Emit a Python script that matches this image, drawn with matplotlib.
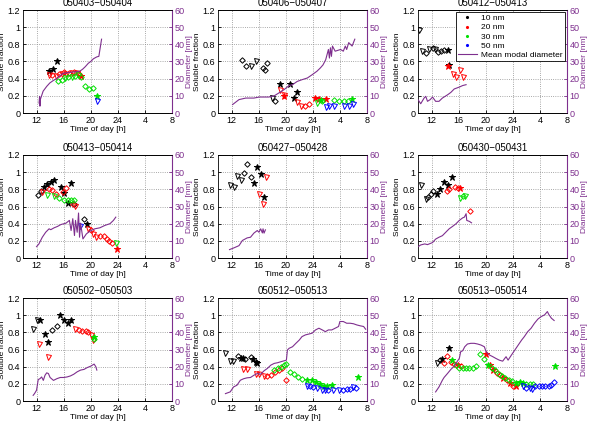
import matplotlib
matplotlib.use("Agg")
import matplotlib.pyplot as plt
from matplotlib.lines import Line2D

plt.rcParams['font.family'] = ['Liberation Sans', 'DejaVu Sans']
plt.rcParams['font.size'] = 6

# Achsen / Beschriftung
TITLES = ['050403\u2212050404', '050406\u2212050407', '050412\u2212050413',
          '050413\u2212050414', '050427\u2212050428', '050430\u2212050431',
          '050502\u2212050503', '050512\u2212050513', '050513\u2212050514']
XTICKS = [12, 16, 20, 24, 28, 32]
XTICKLABELS = ['12', '16', '20', '24', '4', '8']
YTICKS = [0, 0.2, 0.4, 0.6, 0.8, 1.0, 1.2]
YTICKLABELS = ['0', '0.2', '0.4', '0.6', '0.8', '1', '1.2']
DTICKS = [0, 10, 20, 30, 40, 50, 60]
SIZE_LABELS = ['10 nm', '20 nm', '30 nm', '50 nm']

# Messpunkte: (Zeit [h], Löslicher Anteil, Marker)
P1_10 = [(13.8, 0.49, '*'), (14.45, 0.51, '*'), (15.05, 0.60, '*')]
P1_20 = [(13.9, 0.44, 'v'), (14.3, 0.44, 'd'), (14.8, 0.43, 'v'), (15.3, 0.45, 'd'), (15.7, 0.46, 'v'),
         (16.0, 0.48, 'd'), (16.4, 0.46, 'v'), (16.8, 0.47, 'd'), (17.2, 0.47, 'v'), (17.6, 0.48, 'd'),
         (18.0, 0.47, 'v'), (18.3, 0.45, 'd'), (18.6, 0.43, '*')]
P1_30 = [(15.2, 0.37, 'd'), (15.7, 0.39, 'd'), (16.2, 0.41, 'v'), (16.7, 0.42, 'd'), (17.2, 0.42, 'v'),
         (17.7, 0.43, 'd'), (18.1, 0.44, 'v'), (18.6, 0.42, 'd'), (19.2, 0.31, 'd'), (19.7, 0.28, 'd'),
         (20.3, 0.29, 'd'), (21.0, 0.20, '*')]
P1_50 = [(21.0, 0.14, 'v')]

P2_10 = [(13.5, 0.62, 'd'), (14.1, 0.545, 'd'), (14.8, 0.55, 'v'), (15.6, 0.61, 'v'), (16.7, 0.525, 'd'),
         (17.0, 0.50, 'd'), (17.3, 0.58, 'd'), (17.9, 0.175, 'v'), (18.4, 0.135, 'd'), (19.15, 0.34, '*'),
         (20.6, 0.34, '*'), (21.2, 0.175, '*'), (21.7, 0.25, '*')]
P2_20 = [(19.15, 0.27, 'v'), (19.7, 0.20, '*'), (19.8, 0.21, 'v'), (21.7, 0.125, 'v'), (22.2, 0.08, 'v'),
         (22.9, 0.08, 'd'), (23.5, 0.10, 'd'), (24.25, 0.175, '*'), (24.9, 0.16, '*'), (25.9, 0.16, '*')]
P2_30 = [(24.6, 0.12, 'v'), (25.2, 0.15, '*'), (25.4, 0.135, 'd'), (27.1, 0.155, 'd'), (27.8, 0.145, 'd'),
         (28.6, 0.145, 'd'), (29.2, 0.145, 'd'), (29.8, 0.165, '*')]
P2_50 = [(25.9, 0.07, 'v'), (26.4, 0.08, 'v'), (27.1, 0.085, 'v'), (28.6, 0.085, 'v'), (29.3, 0.08, 'v'),
         (30.0, 0.105, 'v')]

P3_10 = [(10.15, 0.97, 'v'), (10.65, 0.72, 'v'), (11.15, 0.70, 'd'), (11.65, 0.75, 'v'), (12.15, 0.76, 'd'),
         (12.5, 0.74, 'v'), (12.9, 0.71, 'd'), (13.4, 0.72, 'd'), (13.9, 0.73, 'd'), (14.4, 0.73, '*'),
         (14.65, 0.565, '*')]
P3_20 = [(14.5, 0.55, '*'), (15.1, 0.45, 'v'), (15.6, 0.42, 'v'), (16.2, 0.50, 'v'), (16.6, 0.42, 'v')]
P3_30 = []
P3_50 = []

P4_10 = [(12.2, 0.73, 'd'), (12.6, 0.78, 'd'), (13.1, 0.83, '*'), (13.6, 0.86, '*'), (14.1, 0.88, '*'),
         (14.6, 0.91, '*'), (15.6, 0.83, '*'), (16.1, 0.76, '*'), (16.6, 0.64, '*'), (17.1, 0.87, '*'),
         (17.6, 0.63, 'd'), (19.0, 0.45, 'd'), (19.4, 0.40, '*')]
P4_20 = [(12.85, 0.77, 'v'), (13.85, 0.80, 'd'), (14.35, 0.79, 'd'), (14.85, 0.75, 'd'), (15.85, 0.77, 'd'),
         (16.35, 0.81, 'd'), (17.35, 0.63, 'd'), (17.7, 0.61, 'v'), (19.6, 0.34, 'v'), (20.1, 0.33, 'd'),
         (20.35, 0.28, 'v'), (20.85, 0.24, 'v'), (21.35, 0.26, 'd'), (22.0, 0.26, 'd'), (22.35, 0.22, 'd'),
         (22.7, 0.20, 'd'), (23.2, 0.17, 'd'), (23.85, 0.105, '*')]
P4_30 = [(13.6, 0.73, 'v'), (14.6, 0.72, 'v'), (15.35, 0.70, 'd'), (16.1, 0.68, 'd'), (16.6, 0.68, 'd'),
         (17.1, 0.67, 'd'), (17.6, 0.68, 'd'), (23.7, 0.17, 'v')]
P4_50 = [(18.45, 0.37, 'v')]

P5_10 = [(11.7, 0.855, 'v'), (12.4, 0.83, 'v'), (12.85, 0.96, 'v'), (13.4, 0.91, 'v'), (13.8, 0.99, 'd'),
         (14.3, 1.09, 'd'), (14.8, 0.94, 'd'), (15.3, 0.87, '*'), (15.8, 1.06, '*'), (16.3, 0.98, '*'),
         (16.8, 0.71, '*')]
P5_20 = [(16.05, 0.74, 'v'), (16.65, 0.625, 'v'), (17.15, 0.945, 'v')]
P5_30 = []
P5_50 = []

P6_10 = [(10.4, 0.85, 'v'), (11.15, 0.69, 'v'), (11.5, 0.71, 'd'), (11.9, 0.75, 'd'), (12.15, 0.78, 'd'),
         (12.8, 0.74, '*'), (13.3, 0.80, '*'), (13.8, 0.89, '*'), (14.4, 0.85, '*'), (15.0, 0.945, '*')]
P6_20 = [(14.3, 0.78, 'd'), (14.65, 0.80, 'd'), (15.5, 0.83, 'd'), (15.85, 0.82, 'd'), (16.25, 0.82, '*'),
         (17.7, 0.55, 'd')]
P6_30 = [(16.2, 0.70, 'v'), (16.6, 0.72, 'd'), (16.95, 0.72, 'v')]
P6_50 = []

P7_10 = [(11.5, 0.835, 'v'), (12.1, 0.94, 'v'), (12.5, 0.94, '*'), (13.25, 0.78, '*'), (13.75, 0.69, '*'),
         (14.25, 0.83, 'd'), (15.0, 0.875, 'd'), (15.4, 1.0, '*'), (16.0, 0.94, '*'), (16.65, 0.905, '*'),
         (17.15, 0.94, '*')]
P7_20 = [(12.35, 0.66, 'v'), (13.65, 0.515, 'v'), (17.75, 0.835, 'v'), (18.25, 0.83, 'd'), (18.75, 0.82, 'd'),
         (19.25, 0.81, 'd'), (19.65, 0.80, 'd'), (20.0, 0.77, 'v'), (20.4, 0.71, 'v')]
P7_30 = [(20.5, 0.74, '*'), (20.55, 0.72, 'd')]
P7_50 = []

P8_10 = [(11.05, 0.56, 'v'), (11.8, 0.465, 'v'), (12.25, 0.465, 'v'), (12.9, 0.52, 'd'), (13.4, 0.50, '*'),
         (13.7, 0.50, '*'), (14.0, 0.485, 'd'), (14.8, 0.515, 'd'), (15.2, 0.485, '*'), (15.6, 0.46, '*'),
         (15.8, 0.44, '*')]
P8_20 = [(13.75, 0.37, 'v'), (14.35, 0.37, 'v'), (15.55, 0.31, 'v'), (16.05, 0.31, 'v'), (16.8, 0.29, 'v'),
         (17.3, 0.29, 'd'), (17.8, 0.30, 'd'), (18.4, 0.34, 'd'), (19.0, 0.36, 'd'), (19.5, 0.38, 'd'),
         (20.0, 0.25, 'd')]
P8_30 = [(18.3, 0.36, 'd'), (18.8, 0.39, 'd'), (19.3, 0.40, 'd'), (19.8, 0.42, 'd'), (20.1, 0.43, 'd'),
         (20.6, 0.34, 'd'), (21.2, 0.31, 'd'), (21.8, 0.28, 'd'), (22.4, 0.26, 'd'), (23.15, 0.24, '*'),
         (23.9, 0.24, '*'), (24.4, 0.22, '*'), (25.1, 0.195, '*'), (25.6, 0.18, '*'), (26.1, 0.18, '*'),
         (26.8, 0.19, '*'), (30.6, 0.28, '*')]
P8_50 = [(23.15, 0.17, 'v'), (23.6, 0.17, 'd'), (24.1, 0.16, 'd'), (24.6, 0.155, 'v'), (25.4, 0.13, 'v'),
         (25.8, 0.125, 'v'), (26.3, 0.13, 'd'), (27.0, 0.125, 'v'), (27.8, 0.125, 'v'), (28.5, 0.13, 'd'),
         (29.0, 0.145, 'd'), (29.5, 0.145, 'd'), (30.0, 0.165, 'v'), (30.4, 0.155, 'd')]

P9_10 = [(12.8, 0.445, 'v'), (13.3, 0.475, 'd'), (13.6, 0.485, '*'), (14.6, 0.62, '*')]
P9_20 = [(13.85, 0.445, 'd'), (14.35, 0.525, 'd'), (14.85, 0.46, 'd'), (15.35, 0.43, 'd'), (15.85, 0.42, '*'),
         (16.35, 0.405, 'd'), (20.0, 0.545, '*'), (20.6, 0.42, '*'), (21.1, 0.36, '*'), (21.6, 0.33, 'd'),
         (22.1, 0.30, 'd'), (22.6, 0.27, '*'), (23.1, 0.24, 'd'), (23.6, 0.21, '*'), (24.1, 0.18, 'd'),
         (24.4, 0.17, '*')]
P9_30 = [(14.95, 0.48, '*'), (15.6, 0.42, 'd'), (16.1, 0.39, 'd'), (16.6, 0.38, 'd'), (17.1, 0.38, 'd'),
         (17.6, 0.38, 'd'), (18.1, 0.39, 'd'), (18.6, 0.405, 'd'), (19.2, 0.545, 'd'), (19.8, 0.495, 'd'),
         (20.3, 0.42, '*'), (20.9, 0.39, 'd'), (21.4, 0.36, 'd'), (21.9, 0.32, 'd'), (22.4, 0.29, 'd'),
         (22.9, 0.27, 'd'), (23.4, 0.245, 'd'), (23.9, 0.23, 'd'), (24.4, 0.21, '*'), (25.0, 0.22, '*'),
         (25.5, 0.21, '*'), (26.0, 0.195, 'd'), (26.5, 0.20, 'd'), (27.0, 0.195, 'd'), (30.2, 0.405, '*')]
P9_50 = [(25.5, 0.17, 'v'), (26.0, 0.155, 'd'), (26.5, 0.155, 'v'), (26.8, 0.145, 'v'), (27.3, 0.17, 'd'),
         (27.8, 0.18, 'd'), (28.3, 0.18, 'd'), (28.8, 0.17, 'd'), (29.3, 0.17, 'd'), (29.7, 0.19, 'd'),
         (30.1, 0.22, 'd')]

# mittlerer Modaldurchmesser [nm]
D1_T = [12.37, 12.45, 12.5, 12.55, 12.7, 12.97, 13.5, 13.96, 14.5, 14.95, 15.4, 15.9, 16.5, 17.2, 17.8,
        18.4, 18.8, 19.2, 19.65, 20.0, 20.4, 20.9, 21.2, 21.4, 21.6]
D1_D = [5.8, 9.7, 4.0, 7.8, 9.5, 12.7, 15.5, 17.5, 19, 20, 21.5, 23, 23.5, 23.8, 24, 24.4, 25.5, 27, 29,
        30, 31.6, 32.7, 33, 38, 43]
D2_T = [12.15, 13.1, 14.1, 15.3, 16.1, 17.5, 18.3, 19.0, 19.75, 20.5, 21.0, 21.7, 22.4, 23.2, 23.9, 24.6,
        25.1, 25.5, 25.9, 26.1, 26.3, 26.45, 26.6, 26.75, 26.9, 27.3, 28.1, 28.5, 28.8, 29.0, 29.3, 29.8,
        30.2]
D2_D = [4.9, 7.8, 8.7, 8.7, 9.3, 9.3, 10, 11.7, 13.6, 16, 16.5, 18.4, 19.4, 20.4, 22.3, 24.3, 26.2, 28,
        31, 34, 37, 32, 38, 33, 39, 36, 37, 36, 39, 37, 41, 39, 43]
D3_T = [10.0, 10.4, 10.9, 11.15, 11.4, 11.8, 12.15, 12.6, 13.1, 13.6, 14.4, 14.85, 15.35, 16.1, 16.6, 17.1]
D3_D = [7.8, 5.4, 8.7, 9.7, 6.8, 7.8, 9.3, 6.8, 6.8, 8.7, 10.7, 12, 14, 15.1, 16, 16.5]
D4_T = [12.0, 12.35, 12.85, 13.35, 13.85, 14.1, 14.6, 15.1, 15.6, 16.35, 16.85, 17.1, 17.35, 17.6, 17.75,
        18.0, 18.2, 18.35, 18.5, 18.85, 19.35, 19.85, 20.6, 21.35, 22.1, 22.85, 23.35, 23.7]
D4_D = [6.6, 8.2, 12.1, 15, 17, 16.5, 17.6, 18.4, 19.5, 20.3, 21.9, 16, 22.9, 13.1, 21.9, 15, 26.2, 12.1,
        20.3, 11.1, 14, 15.6, 17, 17.6, 19, 20, 21.9, 23.8]
D5_T = [11.7, 12.35, 13.1, 13.6, 14.3, 14.8, 15.3, 15.8, 16.05, 16.3, 16.55, 16.65, 16.8, 17.0]
D5_D = [4.9, 5.9, 7.2, 10.2, 11.7, 12.1, 14.5, 16, 15, 17, 14.6, 17, 14.5, 16.4]
D6_T = [10.0, 10.4, 11.0, 11.4, 12.15, 12.6, 13.1, 13.6, 14.1, 14.6, 15.1, 15.6, 16.1, 16.6, 16.85, 17.1,
        17.2, 17.6, 17.9]
D6_D = [6.6, 7.6, 8.2, 7.8, 9, 11, 12.1, 13, 15, 17, 18.4, 19.9, 21.9, 23.4, 23.8, 25.8, 21.9, 21.3, 20.5]
D7_T = [11.5, 11.7, 12.0, 12.25, 12.5, 12.75, 13.0, 13.25, 13.5, 13.75, 14.0, 14.5, 15.0, 15.5, 16.0, 16.5,
        17.0, 17.5, 18.0, 18.5, 19.0, 19.5, 20.0, 20.5, 20.75, 20.9]
D7_D = [3.3, 4.3, 6.3, 12.5, 13, 14, 12, 15, 16.4, 16, 13.7, 12, 13, 13.7, 13.7, 14, 14.6, 15.6, 17, 18,
        18.4, 19.5, 20.3, 21.5, 20, 18]
D8_T = [11.1, 11.8, 12.3, 12.8, 13.3, 13.8, 14.3, 14.8, 15.3, 15.8, 16.3, 16.8, 17.3, 17.8, 18.3, 18.8,
        19.3, 19.75, 20.1, 20.25, 20.5, 21.0, 21.5, 22.0, 22.4, 22.9, 23.4, 23.9, 24.4, 24.9, 25.4, 25.85,
        26.3, 26.8, 27.3, 27.8, 28.0, 28.5, 29.0, 29.5, 30.0, 30.5, 31.0, 31.5, 31.8]
D8_D = [4.3, 5.3, 8.2, 9.2, 12.1, 13, 13.5, 13.7, 15, 16, 15.6, 17.6, 19, 20.9, 21.9, 22.3, 22.9, 23.4,
        23.8, 29.7, 30.7, 31.6, 33.6, 35.5, 37.5, 38.5, 39, 39.5, 41.4, 42.4, 41.4, 40.4, 41.4, 41.4, 42.4,
        43.4, 46.3, 46.3, 45.3, 45.3, 45, 44.3, 43.8, 43.4, 41.8]
D9_T = [12.6, 13.1, 13.6, 13.85, 14.35, 14.85, 15.35, 15.85, 16.1, 16.3, 16.6, 16.9, 17.3, 17.8, 18.3,
        18.8, 19.3, 19.8, 20.05, 20.55, 21.05, 21.5, 22.0, 22.5, 23.0, 23.3, 23.8, 24.3, 24.8, 25.3, 25.7,
        26.2, 26.7, 27.2, 27.7, 28.2, 28.7, 29.1, 29.3, 29.7, 30.1]
D9_D = [5.3, 8.2, 12.1, 13.7, 16, 18.4, 20.3, 23.4, 24.8, 28.7, 29.3, 31.6, 33.2, 33.6, 33.6, 33.2, 32.6,
        31.6, 28.7, 26.8, 25.8, 24.8, 23.8, 23.2, 25.8, 23.8, 26.8, 29.7, 32.6, 35.5, 37.5, 40.4, 42.4,
        45.3, 47.7, 49.2, 50.2, 52.1, 50.5, 48.2, 46.9]

PANELS = [
    ([P1_10, P1_20, P1_30, P1_50], D1_T, D1_D),
    ([P2_10, P2_20, P2_30, P2_50], D2_T, D2_D),
    ([P3_10, P3_20, P3_30, P3_50], D3_T, D3_D),
    ([P4_10, P4_20, P4_30, P4_50], D4_T, D4_D),
    ([P5_10, P5_20, P5_30, P5_50], D5_T, D5_D),
    ([P6_10, P6_20, P6_30, P6_50], D6_T, D6_D),
    ([P7_10, P7_20, P7_30, P7_50], D7_T, D7_D),
    ([P8_10, P8_20, P8_30, P8_50], D8_T, D8_D),
    ([P9_10, P9_20, P9_30, P9_50], D9_T, D9_D),
]

SIZE_COLORS = ['#000000', '#ff0000', '#00e000', '#0000ff']
PURPLE = '#7e2f8e'
# Marker, Groesse, gefuellt?
MARKER_STYLE = {'v': ('v', 3.6, False), 'd': ('D', 2.8, False), '*': ('*', 4.6, True)}

W, H = 597, 423
COL_LEFT = [23, 218, 418]
ROW_TOP = [10, 155, 298]
AX_W, AX_H = 149, 103

fig = plt.figure(figsize=(W / 100, H / 100), dpi=100)

for i, (series, d_t, d_d) in enumerate(PANELS):
    r, c = divmod(i, 3)
    rect = [COL_LEFT[c] / W, 1 - (ROW_TOP[r] + AX_H) / H, AX_W / W, AX_H / H]
    ax = fig.add_axes(rect)

    for color, pts in zip(SIZE_COLORS, series):
        for key, (mk, ms, filled) in MARKER_STYLE.items():
            sel = [p for p in pts if p[2] == key]
            if not sel:
                continue
            ax.plot([p[0] for p in sel], [p[1] for p in sel], linestyle='none',
                    marker=mk, markersize=ms, markerfacecolor=color if filled else 'none',
                    markeredgecolor=color, markeredgewidth=0.7)

    ax.set_xlim(10, 32)
    ax.set_ylim(0, 1.2)
    ax.set_xticks(XTICKS)
    ax.set_xticklabels(XTICKLABELS)
    ax.set_yticks(YTICKS)
    ax.set_yticklabels(YTICKLABELS)
    ax.grid(True, linestyle=':', color='0.55', linewidth=0.6)
    ax.tick_params(direction='in', length=2.5, width=0.6, pad=2, labelsize=6.5)
    for s in ax.spines.values():
        s.set_linewidth(0.6)
    ax.spines['right'].set_visible(False)
    ax.set_xlabel('Time of day [h]', labelpad=1)
    ax.set_ylabel('Soluble fraction', labelpad=1)
    ax.set_title(TITLES[i], fontsize=7, pad=3)

    ax2 = ax.twinx()
    ax2.plot(d_t, d_d, color=PURPLE, linewidth=0.8)
    ax2.set_ylim(0, 60)
    ax2.set_yticks(DTICKS)
    ax2.tick_params(direction='in', length=2.5, width=0.6, pad=2, colors=PURPLE, labelsize=6.5)
    ax2.spines['right'].set_color(PURPLE)
    ax2.spines['right'].set_linewidth(0.8)
    ax2.spines['left'].set_visible(False)
    ax2.spines['top'].set_linewidth(0.6)
    ax2.spines['bottom'].set_linewidth(0.6)
    ax2.set_ylabel('Diameter [nm]', color=PURPLE, labelpad=1)

    if i == 2:
        handles = [Line2D([], [], linestyle='none', marker='.', markersize=2.5, color=col)
                   for col in SIZE_COLORS]
        handles.append(Line2D([], [], color=PURPLE, linewidth=0.8))
        leg = ax2.legend(handles, SIZE_LABELS + ['Mean modal diameter'], loc='upper right',
                         fontsize=6, fancybox=False, edgecolor='k', framealpha=1,
                         borderaxespad=0.25, handlelength=2.2, labelspacing=0.15,
                         borderpad=0.3, handletextpad=0.5)
        leg.get_frame().set_linewidth(0.6)

fig.savefig('out.png', dpi=100)
